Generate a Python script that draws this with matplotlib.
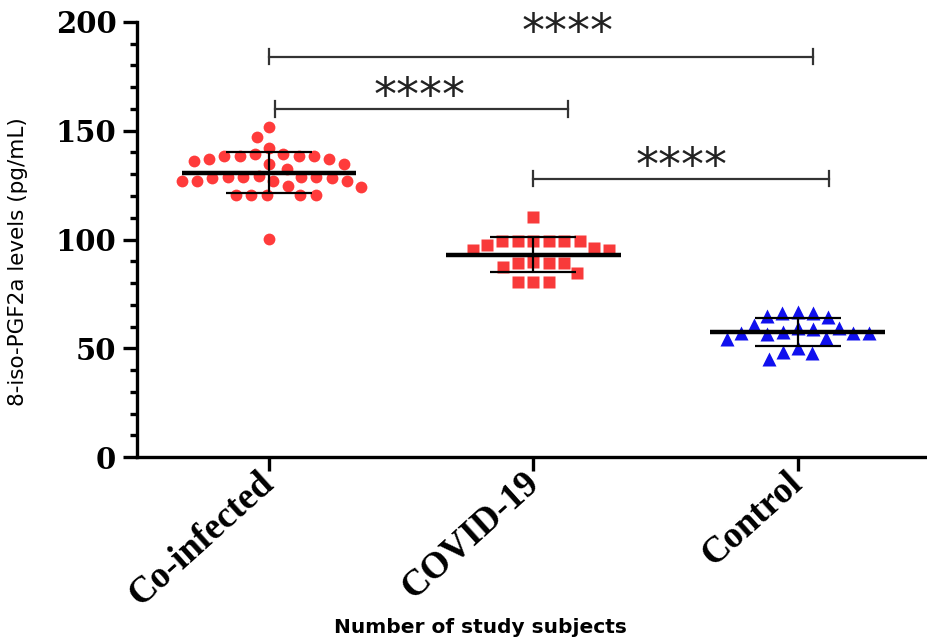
import numpy as np
import matplotlib
matplotlib.use('Agg')
import matplotlib.pyplot as plt

groups = ['Co-infected', 'COVID-19', 'Control']

coinfected = [151.5, 147.2, 142.1, 139.1, 138.5, 138.5, 137.0, 134.5, 134.5,
              136.2, 137.0, 138.5, 138.5, 139.1, 132.2, 129.3, 128.8, 128.8,
              128.1, 126.9, 126.9, 126.9, 126.9, 128.1, 128.8, 128.8, 124.2,
              124.6, 120.4, 120.4, 120.4, 120.4, 120.4, 100.2]
covid = [110.5, 99.4, 99.4, 99.4, 99.4, 99.4, 99.4, 96.2, 95.2, 95.2, 97.5,
         89.1, 89.1, 87.5, 89.1, 89.8, 84.8, 80.3, 80.3, 80.3]
control = [66.1, 64.9, 66.9, 64.6, 66.1, 59.5, 58.8, 56.9, 56.6, 60.7, 56.9,
           56.9, 57.7, 59.5, 54.6, 54.2, 50.3, 48.5, 48.0, 45.0]

# significance brackets: (start, end, height)
brackets = [(0.0, 2.06, 184), (0.02, 1.13, 160), (1.0, 2.12, 128)]
star_pos = [(1.13, 199.5), (0.57, 170), (1.56, 138)]

fig = plt.figure(figsize=(9.27, 6.43), dpi=100)
ax = fig.add_axes([0.148, 0.289, 0.852, 0.677])
ax.set_xlim(-0.5, 2.49)
ax.set_ylim(0, 200)

# pixel scale of data units, used for the swarm layout
p0 = ax.transData.transform((0, 0))
p1 = ax.transData.transform((1, 1))
sx, sy = p1 - p0


def swarm(vals, D=15.5):
    ys = np.asarray(vals) * sy
    order = np.argsort(-ys, kind='stable')
    xs = np.zeros(len(ys))
    placed = []
    flip = 1
    for i in order:
        y = ys[i]
        near = [j for j in placed if abs(ys[j] - y) < D]
        cands = [0.0]
        for j in near:
            d = np.sqrt(D**2 - (ys[j] - y)**2)
            cands += [xs[j] + d, xs[j] - d]
        cands.sort(key=lambda c: (round(abs(c), 4), -flip * c))
        for c in cands:
            if all((xs[j] - c)**2 + (ys[j] - y)**2 >= D**2 - 1e-6 for j in near):
                xs[i] = c
                break
        placed.append(i)
        flip = -flip
    return xs / sx


styles = [('o', '#FF3B3B', 8.5), ('s', '#F83A3A', 8.5), ('^', '#1010EE', 9.5)]
for k, vals in enumerate([coinfected, covid, control]):
    m, c, ms = styles[k]
    xo = swarm(vals)
    ax.plot(k + xo, vals, m, color=c, ms=ms, mec='none', zorder=2)
    mean = np.mean(vals)
    sd = np.std(vals, ddof=1)
    ax.hlines(mean, k - 0.33, k + 0.33, color='black', lw=3.2, zorder=3)
    ax.errorbar(k, mean, yerr=sd, color='black', elinewidth=1.6,
                capsize=31, capthick=1.6, zorder=3)

for (a, b, h), (sxp, sh) in zip(brackets, star_pos):
    ax.plot([a, b], [h, h], color='#333333', lw=1.6, clip_on=False)
    ax.plot([a, a], [h - 3.5, h + 3.5], color='#333333', lw=1.6, clip_on=False)
    ax.plot([b, b], [h - 3.5, h + 3.5], color='#333333', lw=1.6, clip_on=False)
    ax.text(sxp, sh - 10.5, '****', ha='center', va='baseline', fontsize=33,
            family='DejaVu Sans', color='#222222', clip_on=False)

for s in ['top', 'right']:
    ax.spines[s].set_visible(False)
for s in ['left', 'bottom']:
    ax.spines[s].set_linewidth(2.4)

ax.set_yticks([0, 50, 100, 150, 200])
ax.set_yticks(np.arange(0, 201, 10), minor=True)
ax.tick_params(axis='y', which='major', length=10, width=2.4, pad=5)
ax.tick_params(axis='y', which='minor', length=5, width=2.4)
ax.tick_params(axis='x', length=10, width=2.4, pad=5)
ax.set_yticklabels(['0', '50', '100', '150', '200'], family='DejaVu Serif',
                   fontweight='bold', fontsize=21)
ax.set_xticks([0, 1, 2])
ax.set_xticklabels(groups, family='Liberation Serif', fontweight='bold',
                   fontsize=26.5, rotation=42, rotation_mode='anchor',
                   ha='right', va='center')

ax.set_ylabel('8-iso-PGF2a levels (pg/mL)', family='DejaVu Sans', fontsize=15.5)
ax.yaxis.set_label_coords(-0.138, 0.45)
fig.text(0.518, 0.01, 'Number of study subjects', ha='center', va='bottom',
         family='DejaVu Sans', fontweight='bold', fontsize=14.5)

fig.savefig('out.png', dpi=100)
